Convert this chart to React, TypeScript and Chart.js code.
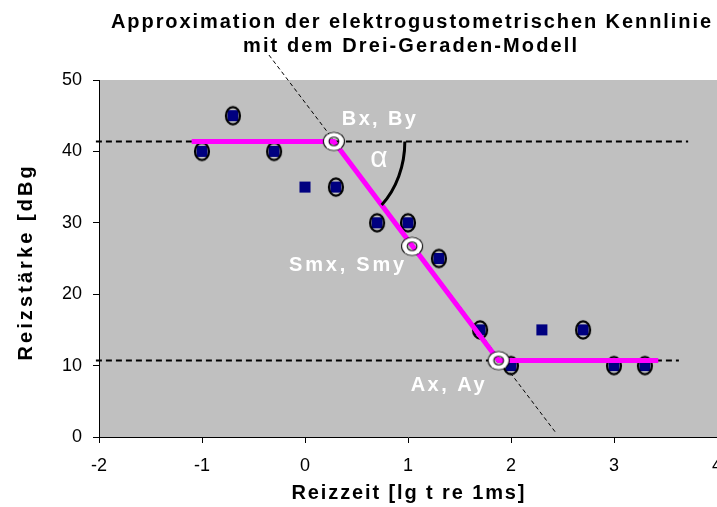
import { useEffect, useRef } from "react";
import { Chart, registerables } from "chart.js";

Chart.register(...registerables);

const FONT = "'Liberation Sans', Arial, sans-serif";

const TITLE_LINES = ["Approximation der elektrogustometrischen Kennlinie", "mit dem Drei-Geraden-Modell"];
const X_TITLE = "Reizzeit [lg t re 1ms]";
const Y_TITLE = "Reizstärke [dBg]";

// measured thresholds (lg stimulus duration vs. stimulus strength)
const measX = [-1, -0.7, -0.3, 0, 0.3, 0.7, 1, 1.3, 1.7, 2, 2.3, 2.7, 3, 3.3];
const measY = [40, 45, 40, 35, 35, 30, 30, 25, 15, 10, 15, 15, 10, 10];
// 1 = value used for the fit (drawn with an ellipse around it)
const measUsed = [1, 1, 1, 0, 1, 1, 1, 1, 1, 1, 0, 1, 1, 1];

// three-line model
const modelX = [-1.1, 0.28, 1.88, 3.43];
const modelY = [41.4, 41.4, 10.7, 10.7];

// characteristic points of the model
const keyLabels = ["Bx, By", "Smx, Smy", "Ax, Ay"];
const keyX = [0.28, 1.04, 1.88];
const keyY = [41.4, 26.7, 10.7];

// reference lines
const upperRefX = [-2.03, 3.72];
const upperRefY = [41.4, 41.4];
const lowerRefX = [-2.03, 3.63];
const lowerRefY = [10.7, 10.7];
const slopeX = [-0.35, 2.43];
const slopeY = [53.5, 0.7];

const xTicks = [-2, -1, 0, 1, 2, 3, 4];
const yTicks = [0, 10, 20, 30, 40, 50];

const pts = (xs: number[], ys: number[]) => xs.map((x, i) => ({ x, y: ys[i] }));

function ellipseMarker(): HTMLCanvasElement {
  const c = document.createElement("canvas");
  c.width = 20;
  c.height = 24;
  const g = c.getContext("2d")!;
  g.strokeStyle = "#000";
  g.lineWidth = 2.2;
  g.beginPath();
  g.ellipse(10, 12, 7, 8.6, 0, 0, Math.PI * 2);
  g.stroke();
  return c;
}

function ringMarker(): HTMLCanvasElement {
  const c = document.createElement("canvas");
  c.width = 26;
  c.height = 24;
  const g = c.getContext("2d")!;
  const ell = (rx: number, ry: number) => {
    g.beginPath();
    g.ellipse(13, 12, rx, ry, 0, 0, Math.PI * 2);
    g.fill();
  };
  g.fillStyle = "#000";
  ell(11, 9.6);
  g.fillStyle = "#fff";
  ell(10, 8.7);
  g.fillStyle = "#000";
  ell(5.4, 4.8);
  g.globalCompositeOperation = "destination-out";
  ell(4.4, 3.9);
  return c;
}

function fitText(
  ctx: CanvasRenderingContext2D,
  text: string,
  x: number,
  y: number,
  width: number,
  font: string,
  color: string,
  align: CanvasTextAlign
) {
  ctx.font = font;
  (ctx as any).letterSpacing = "0px";
  const w = ctx.measureText(text).width;
  const sp = (width - w) / Math.max(1, text.length - 1);
  (ctx as any).letterSpacing = `${sp}px`;
  ctx.fillStyle = color;
  ctx.textAlign = "left";
  ctx.textBaseline = "alphabetic";
  let left = x;
  if (align === "center") left = x - width / 2;
  else if (align === "right") left = x - width;
  ctx.fillText(text, left, y);
  (ctx as any).letterSpacing = "0px";
}

const plotBackground = {
  id: "plotBackground",
  beforeDraw(chart: any) {
    const { ctx, chartArea: a } = chart;
    ctx.save();
    ctx.fillStyle = "#fff";
    ctx.fillRect(0, 0, chart.width, chart.height);
    ctx.fillStyle = "#c0c0c0";
    ctx.fillRect(a.left, a.top, a.right - a.left, a.bottom - a.top);
    ctx.restore();
  },
};

const annotations = {
  id: "annotations",
  afterDatasetsDraw(chart: any) {
    const { ctx } = chart;
    const xs = chart.scales.x;
    const ys = chart.scales.y;
    const kx = keyX.map((v) => xs.getPixelForValue(v));
    const ky = keyY.map((v) => ys.getPixelForValue(v));

    // angle between plateau and slope
    const rx = 71;
    const ry = 86;
    const dx = kx[2] - kx[0];
    const dy = ky[2] - ky[0];
    const s = 1 / Math.sqrt((dx / rx) ** 2 + (dy / ry) ** 2);
    const t = Math.atan2((dy * s) / ry, (dx * s) / rx);
    ctx.save();
    ctx.strokeStyle = "#000";
    ctx.lineWidth = 3;
    ctx.beginPath();
    ctx.ellipse(kx[0], ky[0], rx, ry, 0, 0, t);
    ctx.stroke();

    ctx.font = `30px ${FONT}`;
    ctx.fillStyle = "#fff";
    ctx.textAlign = "center";
    ctx.textBaseline = "middle";
    ctx.fillText("α", kx[0] + 45, ky[0] + 17);

    const bold = `bold 20px ${FONT}`;
    fitText(ctx, keyLabels[0], kx[0] + 8, ky[0] - 16, 74, bold, "#fff", "left");
    fitText(ctx, keyLabels[1], kx[1] - 8, ky[1] + 25, 115, bold, "#fff", "right");
    fitText(ctx, keyLabels[2], kx[2] - 14, ky[2] + 30, 74, bold, "#fff", "right");
    ctx.restore();
  },
  afterDraw(chart: any) {
    const { ctx, chartArea: a } = chart;
    ctx.save();
    const bold = `bold 20px ${FONT}`;
    fitText(ctx, TITLE_LINES[0], 411, 28, 600, bold, "#000", "center");
    fitText(ctx, TITLE_LINES[1], 410, 52, 334, bold, "#000", "center");
    fitText(ctx, X_TITLE, (a.left + a.right) / 2, 499, 233, bold, "#000", "center");

    ctx.save();
    ctx.beginPath();
    ctx.rect(0, 163, 60, 300);
    ctx.clip();
    ctx.translate(32, (a.top + a.bottom) / 2);
    ctx.rotate(-Math.PI / 2);
    fitText(ctx, Y_TITLE, 0, 0, 204, bold, "#000", "center");
    ctx.restore();
    ctx.restore();
  },
};

export default function App() {
  const ref = useRef<HTMLCanvasElement | null>(null);

  useEffect(() => {
    if (!ref.current) return;
    const ellipse = ellipseMarker();
    const ring = ringMarker();
    const usedPts = pts(measX, measY).filter((_, i) => measUsed[i] === 1);

    const chart = new Chart(ref.current, {
      type: "scatter",
      data: {
        datasets: [
          {
            label: "Schwelle",
            data: pts(measX, measY),
            pointStyle: "rect",
            pointRadius: 7.8,
            pointHoverRadius: 7.8,
            backgroundColor: "#000080",
            borderColor: "#000080",
            borderWidth: 0,
            order: 5,
          },
          {
            label: "verwendet",
            data: usedPts,
            pointStyle: ellipse as any,
            pointRadius: 9,
            order: 4,
          },
          {
            label: "Modell",
            data: pts(modelX, modelY),
            showLine: true,
            borderColor: "#ff00ff",
            borderWidth: 5,
            pointRadius: 0,
            order: 3,
          },
          {
            label: "Kennpunkte",
            data: pts(keyX, keyY),
            pointStyle: ring as any,
            pointRadius: 10,
            order: 2,
          },
          {
            label: "By",
            data: pts(upperRefX, upperRefY),
            showLine: true,
            borderColor: "#000",
            borderWidth: 2,
            borderDash: [6, 4],
            pointRadius: 0,
            clip: false as any,
            order: 7,
          },
          {
            label: "Ay",
            data: pts(lowerRefX, lowerRefY),
            showLine: true,
            borderColor: "#000",
            borderWidth: 2,
            borderDash: [6, 4],
            pointRadius: 0,
            clip: false as any,
            order: 7,
          },
          {
            label: "Steigung",
            data: pts(slopeX, slopeY),
            showLine: true,
            borderColor: "#000",
            borderWidth: 1,
            borderDash: [4, 3],
            pointRadius: 0,
            clip: false as any,
            order: 6,
          },
        ],
      },
      options: {
        responsive: false,
        animation: false,
        devicePixelRatio: 1,
        layout: { padding: { left: 0, top: 80, right: 23, bottom: 0 } },
        plugins: {
          legend: { display: false },
          tooltip: { enabled: false },
          title: { display: false },
        },
        scales: {
          x: {
            type: "linear",
            min: xTicks[0],
            max: xTicks[xTicks.length - 1],
            afterBuildTicks: (s: any) => {
              s.ticks = xTicks.map((v) => ({ value: v }));
            },
            afterFit: (s: any) => {
              s.height = 70;
            },
            grid: { drawOnChartArea: false, drawTicks: true, tickLength: 6, color: "#000" },
            border: { display: true, color: "#000", width: 1 },
            ticks: { color: "#000", font: { family: FONT, size: 18 }, padding: 12, maxRotation: 0 },
          },
          y: {
            type: "linear",
            min: yTicks[0],
            max: yTicks[yTicks.length - 1],
            afterBuildTicks: (s: any) => {
              s.ticks = yTicks.map((v) => ({ value: v }));
            },
            afterFit: (s: any) => {
              s.width = 99;
            },
            grid: { drawOnChartArea: false, drawTicks: true, tickLength: 6, color: "#000" },
            border: { display: true, color: "#000", width: 1 },
            ticks: { color: "#000", font: { family: FONT, size: 18 }, padding: 11 },
          },
        },
      },
      plugins: [plotBackground, annotations],
    });
    return () => chart.destroy();
  }, []);

  return (
    <div
      style={{
        position: "fixed",
        left: 0,
        top: 0,
        width: 717,
        height: 507,
        overflow: "hidden",
        background: "#fff",
      }}
    >
      <canvas ref={ref} width={740} height={507} style={{ display: "block" }} />
    </div>
  );
}
